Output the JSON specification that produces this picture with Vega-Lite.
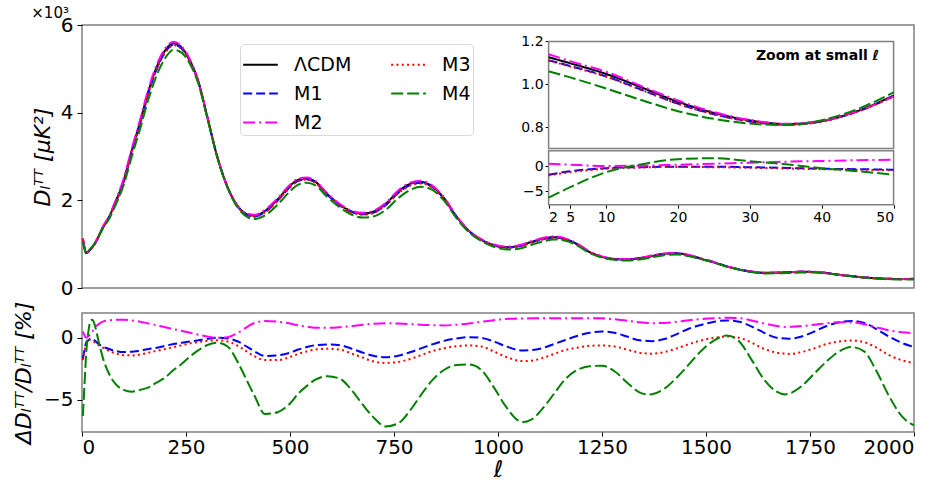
{
  "$schema": "https://vega.github.io/schema/vega-lite/v6.json",
  "padding": {"left": 11, "top": 5, "right": 5, "bottom": 0},
  "config": {
    "font": "DejaVu Sans",
    "view": {"stroke": "#808080", "strokeWidth": 1.5},
    "axis": {"labelFontSize": 20, "labelColor": "black", "tickColor": "black", "domain": false, "grid": false, "titleFontWeight": "normal", "titleColor": "black", "tickSize": 5, "labelPadding": 4}
  },
  "datasets": {
    "top": [
      {"l":2,"ΛCDM":1.13,"M1":1.111,"M2":1.136,"M3":1.110,"M4":1.059},
      {"l":6,"ΛCDM":0.92,"M1":0.911,"M2":0.922,"M3":0.910,"M4":0.885},
      {"l":10,"ΛCDM":0.80,"M1":0.797,"M2":0.800,"M3":0.796,"M4":0.790},
      {"l":15,"ΛCDM":0.83,"M1":0.828,"M2":0.831,"M3":0.828,"M4":0.833},
      {"l":20,"ΛCDM":0.88,"M1":0.879,"M2":0.883,"M3":0.879,"M4":0.891},
      {"l":30,"ΛCDM":1.00,"M1":0.998,"M2":1.008,"M3":0.997,"M4":1.011},
      {"l":40,"ΛCDM":1.18,"M1":1.174,"M2":1.193,"M3":1.173,"M4":1.176},
      {"l":50,"ΛCDM":1.38,"M1":1.370,"M2":1.398,"M3":1.369,"M4":1.358},
      {"l":65,"ΛCDM":1.62,"M1":1.605,"M2":1.643,"M3":1.603,"M4":1.573},
      {"l":80,"ΛCDM":1.95,"M1":1.930,"M2":1.978,"M3":1.926,"M4":1.878},
      {"l":100,"ΛCDM":2.45,"M1":2.422,"M2":2.486,"M3":2.416,"M4":2.347},
      {"l":120,"ΛCDM":3.15,"M1":3.115,"M2":3.194,"M3":3.105,"M4":3.013},
      {"l":140,"ΛCDM":3.80,"M1":3.760,"M2":3.849,"M3":3.749,"M4":3.640},
      {"l":160,"ΛCDM":4.50,"M1":4.460,"M2":4.552,"M3":4.446,"M4":4.320},
      {"l":180,"ΛCDM":5.05,"M1":5.010,"M2":5.101,"M3":4.997,"M4":4.868},
      {"l":200,"ΛCDM":5.42,"M1":5.385,"M2":5.466,"M3":5.371,"M4":5.247},
      {"l":220,"ΛCDM":5.58,"M1":5.552,"M2":5.619,"M3":5.538,"M4":5.435},
      {"l":240,"ΛCDM":5.48,"M1":5.458,"M2":5.510,"M3":5.447,"M4":5.365},
      {"l":260,"ΛCDM":5.18,"M1":5.164,"M2":5.201,"M3":5.157,"M4":5.102},
      {"l":280,"ΛCDM":4.70,"M1":4.691,"M2":4.712,"M3":4.684,"M4":4.653},
      {"l":300,"ΛCDM":3.95,"M1":3.946,"M2":3.954,"M3":3.940,"M4":3.926},
      {"l":325,"ΛCDM":3.00,"M1":3.000,"M2":3.000,"M3":2.994,"M4":2.988},
      {"l":350,"ΛCDM":2.30,"M1":2.299,"M2":2.301,"M3":2.293,"M4":2.284},
      {"l":375,"ΛCDM":1.86,"M1":1.854,"M2":1.867,"M3":1.848,"M4":1.823},
      {"l":400,"ΛCDM":1.67,"M1":1.657,"M2":1.686,"M3":1.650,"M4":1.608},
      {"l":415,"ΛCDM":1.65,"M1":1.632,"M2":1.670,"M3":1.625,"M4":1.572},
      {"l":440,"ΛCDM":1.76,"M1":1.734,"M2":1.784,"M3":1.728,"M4":1.656},
      {"l":470,"ΛCDM":2.02,"M1":1.991,"M2":2.046,"M3":1.984,"M4":1.897},
      {"l":500,"ΛCDM":2.33,"M1":2.302,"M2":2.357,"M3":2.294,"M4":2.207},
      {"l":520,"ΛCDM":2.47,"M1":2.447,"M2":2.495,"M3":2.438,"M4":2.359},
      {"l":540,"ΛCDM":2.50,"M1":2.481,"M2":2.523,"M3":2.473,"M4":2.403},
      {"l":560,"ΛCDM":2.43,"M1":2.415,"M2":2.450,"M3":2.407,"M4":2.347},
      {"l":590,"ΛCDM":2.14,"M1":2.128,"M2":2.157,"M3":2.121,"M4":2.074},
      {"l":620,"ΛCDM":1.90,"M1":1.889,"M2":1.916,"M3":1.882,"M4":1.837},
      {"l":650,"ΛCDM":1.74,"M1":1.724,"M2":1.757,"M3":1.717,"M4":1.665},
      {"l":675,"ΛCDM":1.70,"M1":1.680,"M2":1.718,"M3":1.673,"M4":1.608},
      {"l":700,"ΛCDM":1.74,"M1":1.715,"M2":1.760,"M3":1.707,"M4":1.629},
      {"l":730,"ΛCDM":1.92,"M1":1.890,"M2":1.943,"M3":1.881,"M4":1.783},
      {"l":760,"ΛCDM":2.20,"M1":2.168,"M2":2.225,"M3":2.157,"M4":2.048},
      {"l":790,"ΛCDM":2.38,"M1":2.353,"M2":2.406,"M3":2.340,"M4":2.242},
      {"l":815,"ΛCDM":2.42,"M1":2.399,"M2":2.445,"M3":2.386,"M4":2.309},
      {"l":840,"ΛCDM":2.33,"M1":2.317,"M2":2.354,"M3":2.304,"M4":2.248},
      {"l":870,"ΛCDM":2.05,"M1":2.045,"M2":2.071,"M3":2.033,"M4":1.997},
      {"l":900,"ΛCDM":1.63,"M1":1.629,"M2":1.647,"M3":1.619,"M4":1.594},
      {"l":930,"ΛCDM":1.30,"M1":1.301,"M2":1.315,"M3":1.292,"M4":1.272},
      {"l":960,"ΛCDM":1.10,"M1":1.100,"M2":1.114,"M3":1.092,"M4":1.071},
      {"l":990,"ΛCDM":0.98,"M1":0.977,"M2":0.994,"M3":0.969,"M4":0.941},
      {"l":1020,"ΛCDM":0.93,"M1":0.923,"M2":0.944,"M3":0.916,"M4":0.878},
      {"l":1050,"ΛCDM":0.96,"M1":0.950,"M2":0.975,"M3":0.942,"M4":0.896},
      {"l":1080,"ΛCDM":1.05,"M1":1.040,"M2":1.066,"M3":1.031,"M4":0.981},
      {"l":1110,"ΛCDM":1.13,"M1":1.121,"M2":1.148,"M3":1.112,"M4":1.067},
      {"l":1135,"ΛCDM":1.16,"M1":1.154,"M2":1.178,"M3":1.145,"M4":1.108},
      {"l":1160,"ΛCDM":1.12,"M1":1.118,"M2":1.138,"M3":1.109,"M4":1.082},
      {"l":1190,"ΛCDM":1.00,"M1":1.002,"M2":1.016,"M3":0.992,"M4":0.974},
      {"l":1220,"ΛCDM":0.82,"M1":0.823,"M2":0.833,"M3":0.815,"M4":0.801},
      {"l":1250,"ΛCDM":0.71,"M1":0.714,"M2":0.721,"M3":0.706,"M4":0.694},
      {"l":1280,"ΛCDM":0.66,"M1":0.663,"M2":0.670,"M3":0.655,"M4":0.642},
      {"l":1310,"ΛCDM":0.65,"M1":0.651,"M2":0.659,"M3":0.644,"M4":0.627},
      {"l":1340,"ΛCDM":0.68,"M1":0.679,"M2":0.689,"M3":0.672,"M4":0.650},
      {"l":1370,"ΛCDM":0.73,"M1":0.728,"M2":0.739,"M3":0.721,"M4":0.697},
      {"l":1400,"ΛCDM":0.78,"M1":0.779,"M2":0.789,"M3":0.771,"M4":0.748},
      {"l":1430,"ΛCDM":0.79,"M1":0.792,"M2":0.800,"M3":0.783,"M4":0.765},
      {"l":1460,"ΛCDM":0.74,"M1":0.746,"M2":0.751,"M3":0.736,"M4":0.724},
      {"l":1490,"ΛCDM":0.66,"M1":0.667,"M2":0.670,"M3":0.659,"M4":0.653},
      {"l":1520,"ΛCDM":0.58,"M1":0.588,"M2":0.589,"M3":0.580,"M4":0.579},
      {"l":1550,"ΛCDM":0.49,"M1":0.497,"M2":0.498,"M3":0.490,"M4":0.491},
      {"l":1580,"ΛCDM":0.42,"M1":0.425,"M2":0.427,"M3":0.420,"M4":0.419},
      {"l":1610,"ΛCDM":0.37,"M1":0.373,"M2":0.375,"M3":0.369,"M4":0.363},
      {"l":1640,"ΛCDM":0.345,"M1":0.346,"M2":0.349,"M3":0.342,"M4":0.333},
      {"l":1670,"ΛCDM":0.35,"M1":0.350,"M2":0.353,"M3":0.346,"M4":0.335},
      {"l":1700,"ΛCDM":0.36,"M1":0.360,"M2":0.363,"M3":0.355,"M4":0.344},
      {"l":1730,"ΛCDM":0.37,"M1":0.370,"M2":0.374,"M3":0.366,"M4":0.356},
      {"l":1760,"ΛCDM":0.365,"M1":0.367,"M2":0.369,"M3":0.362,"M4":0.354},
      {"l":1790,"ΛCDM":0.34,"M1":0.343,"M2":0.344,"M3":0.338,"M4":0.334},
      {"l":1820,"ΛCDM":0.30,"M1":0.304,"M2":0.304,"M3":0.299,"M4":0.297},
      {"l":1850,"ΛCDM":0.27,"M1":0.274,"M2":0.273,"M3":0.269,"M4":0.268},
      {"l":1880,"ΛCDM":0.24,"M1":0.243,"M2":0.243,"M3":0.239,"M4":0.237},
      {"l":1910,"ΛCDM":0.22,"M1":0.222,"M2":0.222,"M3":0.218,"M4":0.214},
      {"l":1940,"ΛCDM":0.21,"M1":0.210,"M2":0.211,"M3":0.207,"M4":0.200},
      {"l":1970,"ΛCDM":0.205,"M1":0.204,"M2":0.206,"M3":0.201,"M4":0.192},
      {"l":2000,"ΛCDM":0.21,"M1":0.208,"M2":0.211,"M3":0.206,"M4":0.195}
    ],
    "res": [
      {"l":2,"M1":-1.7,"M2":0.5,"M3":-1.8,"M4":-6.3},
      {"l":6,"M1":-1.0,"M2":0.2,"M3":-1.1,"M4":-3.8},
      {"l":10,"M1":-0.4,"M2":0.0,"M3":-0.5,"M4":-1.3},
      {"l":15,"M1":-0.2,"M2":0.1,"M3":-0.25,"M4":0.4},
      {"l":20,"M1":-0.1,"M2":0.3,"M3":-0.15,"M4":1.3},
      {"l":25,"M1":-0.1,"M2":0.5,"M3":-0.2,"M4":1.45},
      {"l":30,"M1":-0.2,"M2":0.8,"M3":-0.35,"M4":1.1},
      {"l":40,"M1":-0.5,"M2":1.1,"M3":-0.6,"M4":-0.3},
      {"l":50,"M1":-0.7,"M2":1.3,"M3":-0.8,"M4":-1.6},
      {"l":65,"M1":-0.9,"M2":1.4,"M3":-1.05,"M4":-2.9},
      {"l":80,"M1":-1.05,"M2":1.45,"M3":-1.25,"M4":-3.7},
      {"l":100,"M1":-1.15,"M2":1.45,"M3":-1.4,"M4":-4.2},
      {"l":120,"M1":-1.12,"M2":1.4,"M3":-1.42,"M4":-4.35},
      {"l":140,"M1":-1.05,"M2":1.3,"M3":-1.35,"M4":-4.2},
      {"l":160,"M1":-0.9,"M2":1.15,"M3":-1.2,"M4":-4.0},
      {"l":180,"M1":-0.8,"M2":1.0,"M3":-1.05,"M4":-3.6},
      {"l":200,"M1":-0.65,"M2":0.85,"M3":-0.9,"M4":-3.2},
      {"l":220,"M1":-0.5,"M2":0.7,"M3":-0.75,"M4":-2.6},
      {"l":240,"M1":-0.4,"M2":0.55,"M3":-0.6,"M4":-2.1},
      {"l":260,"M1":-0.3,"M2":0.4,"M3":-0.45,"M4":-1.5},
      {"l":280,"M1":-0.2,"M2":0.25,"M3":-0.35,"M4":-1.0},
      {"l":300,"M1":-0.1,"M2":0.1,"M3":-0.25,"M4":-0.6},
      {"l":325,"M1":0.0,"M2":0.0,"M3":-0.2,"M4":-0.4},
      {"l":350,"M1":-0.05,"M2":0.05,"M3":-0.3,"M4":-0.7},
      {"l":375,"M1":-0.3,"M2":0.4,"M3":-0.65,"M4":-2.0},
      {"l":400,"M1":-0.8,"M2":0.95,"M3":-1.2,"M4":-3.7},
      {"l":415,"M1":-1.1,"M2":1.2,"M3":-1.5,"M4":-4.7},
      {"l":440,"M1":-1.47,"M2":1.35,"M3":-1.8,"M4":-6.15},
      {"l":470,"M1":-1.42,"M2":1.3,"M3":-1.8,"M4":-6.0},
      {"l":500,"M1":-1.2,"M2":1.15,"M3":-1.55,"M4":-5.3},
      {"l":520,"M1":-0.95,"M2":1.0,"M3":-1.3,"M4":-4.5},
      {"l":540,"M1":-0.75,"M2":0.9,"M3":-1.1,"M4":-3.9},
      {"l":560,"M1":-0.6,"M2":0.82,"M3":-0.95,"M4":-3.4},
      {"l":590,"M1":-0.54,"M2":0.8,"M3":-0.89,"M4":-3.1},
      {"l":620,"M1":-0.6,"M2":0.85,"M3":-0.95,"M4":-3.3},
      {"l":650,"M1":-0.9,"M2":0.95,"M3":-1.3,"M4":-4.3},
      {"l":675,"M1":-1.2,"M2":1.05,"M3":-1.6,"M4":-5.4},
      {"l":700,"M1":-1.45,"M2":1.13,"M3":-1.9,"M4":-6.4},
      {"l":730,"M1":-1.56,"M2":1.18,"M3":-2.03,"M4":-7.15},
      {"l":760,"M1":-1.45,"M2":1.15,"M3":-1.95,"M4":-6.9},
      {"l":790,"M1":-1.15,"M2":1.1,"M3":-1.7,"M4":-5.8},
      {"l":815,"M1":-0.85,"M2":1.05,"M3":-1.4,"M4":-4.6},
      {"l":840,"M1":-0.55,"M2":1.02,"M3":-1.1,"M4":-3.5},
      {"l":870,"M1":-0.25,"M2":1.0,"M3":-0.85,"M4":-2.6},
      {"l":900,"M1":-0.05,"M2":1.05,"M3":-0.68,"M4":-2.2},
      {"l":930,"M1":0.05,"M2":1.15,"M3":-0.62,"M4":-2.15},
      {"l":960,"M1":0.0,"M2":1.3,"M3":-0.7,"M4":-2.6},
      {"l":990,"M1":-0.3,"M2":1.42,"M3":-1.1,"M4":-4.0},
      {"l":1020,"M1":-0.7,"M2":1.52,"M3":-1.55,"M4":-5.6},
      {"l":1050,"M1":-1.0,"M2":1.55,"M3":-1.85,"M4":-6.7},
      {"l":1060,"M1":-1.02,"M2":1.56,"M3":-1.88,"M4":-6.8},
      {"l":1080,"M1":-1.0,"M2":1.57,"M3":-1.85,"M4":-6.6},
      {"l":1110,"M1":-0.8,"M2":1.58,"M3":-1.6,"M4":-5.6},
      {"l":1135,"M1":-0.5,"M2":1.58,"M3":-1.3,"M4":-4.5},
      {"l":1160,"M1":-0.2,"M2":1.58,"M3":-1.0,"M4":-3.4},
      {"l":1190,"M1":0.15,"M2":1.58,"M3":-0.8,"M4":-2.6},
      {"l":1220,"M1":0.4,"M2":1.58,"M3":-0.65,"M4":-2.3},
      {"l":1250,"M1":0.5,"M2":1.57,"M3":-0.62,"M4":-2.25},
      {"l":1280,"M1":0.4,"M2":1.5,"M3":-0.7,"M4":-2.7},
      {"l":1310,"M1":0.1,"M2":1.38,"M3":-0.95,"M4":-3.6},
      {"l":1340,"M1":-0.2,"M2":1.25,"M3":-1.2,"M4":-4.4},
      {"l":1360,"M1":-0.25,"M2":1.2,"M3":-1.27,"M4":-4.57},
      {"l":1370,"M1":-0.27,"M2":1.18,"M3":-1.28,"M4":-4.55},
      {"l":1400,"M1":-0.1,"M2":1.2,"M3":-1.15,"M4":-4.1},
      {"l":1430,"M1":0.3,"M2":1.3,"M3":-0.85,"M4":-3.2},
      {"l":1460,"M1":0.75,"M2":1.42,"M3":-0.5,"M4":-2.1},
      {"l":1490,"M1":1.05,"M2":1.52,"M3":-0.2,"M4":-1.0},
      {"l":1520,"M1":1.3,"M2":1.58,"M3":0.0,"M4":-0.2},
      {"l":1550,"M1":1.4,"M2":1.61,"M3":0.1,"M4":0.19},
      {"l":1580,"M1":1.3,"M2":1.58,"M3":0.0,"M4":-0.3},
      {"l":1610,"M1":0.9,"M2":1.4,"M3":-0.4,"M4":-1.8},
      {"l":1640,"M1":0.4,"M2":1.15,"M3":-0.9,"M4":-3.4},
      {"l":1670,"M1":0.0,"M2":0.95,"M3":-1.2,"M4":-4.35},
      {"l":1690,"M1":-0.05,"M2":0.87,"M3":-1.28,"M4":-4.57},
      {"l":1700,"M1":-0.08,"M2":0.88,"M3":-1.3,"M4":-4.5},
      {"l":1730,"M1":0.1,"M2":0.95,"M3":-1.15,"M4":-3.9},
      {"l":1760,"M1":0.5,"M2":1.05,"M3":-0.85,"M4":-2.9},
      {"l":1790,"M1":0.95,"M2":1.17,"M3":-0.5,"M4":-1.9},
      {"l":1820,"M1":1.25,"M2":1.25,"M3":-0.3,"M4":-1.1},
      {"l":1850,"M1":1.35,"M2":1.25,"M3":-0.22,"M4":-0.75},
      {"l":1880,"M1":1.2,"M2":1.1,"M3":-0.35,"M4":-1.1},
      {"l":1910,"M1":0.7,"M2":0.85,"M3":-0.8,"M4":-2.7},
      {"l":1940,"M1":0.1,"M2":0.6,"M3":-1.4,"M4":-4.7},
      {"l":1970,"M1":-0.4,"M2":0.45,"M3":-1.8,"M4":-6.3},
      {"l":2000,"M1":-0.75,"M2":0.38,"M3":-2.05,"M4":-7.07}
    ],
    "insetTop": [
      {"l":2,"ΛCDM":1.126,"M1":1.112,"M2":1.140,"M3":1.110,"M4":1.060},
      {"l":5,"ΛCDM":1.098,"M1":1.085,"M2":1.108,"M3":1.083,"M4":1.032},
      {"l":10,"ΛCDM":1.048,"M1":1.037,"M2":1.058,"M3":1.035,"M4":0.980},
      {"l":15,"ΛCDM":0.984,"M1":0.973,"M2":0.990,"M3":0.972,"M4":0.925},
      {"l":20,"ΛCDM":0.918,"M1":0.909,"M2":0.924,"M3":0.908,"M4":0.874},
      {"l":25,"ΛCDM":0.866,"M1":0.860,"M2":0.870,"M3":0.859,"M4":0.838},
      {"l":30,"ΛCDM":0.831,"M1":0.826,"M2":0.833,"M3":0.825,"M4":0.816},
      {"l":35,"ΛCDM":0.814,"M1":0.811,"M2":0.815,"M3":0.810,"M4":0.809},
      {"l":40,"ΛCDM":0.828,"M1":0.826,"M2":0.829,"M3":0.825,"M4":0.832},
      {"l":45,"ΛCDM":0.875,"M1":0.873,"M2":0.874,"M3":0.872,"M4":0.884},
      {"l":50,"ΛCDM":0.947,"M1":0.944,"M2":0.943,"M3":0.943,"M4":0.962}
    ],
    "insetRes": [
      {"l":2,"M1":-1.7,"M2":0.5,"M3":-1.85,"M4":-6.3},
      {"l":5,"M1":-1.0,"M2":0.3,"M3":-1.2,"M4":-4.2},
      {"l":10,"M1":-0.4,"M2":0.05,"M3":-0.5,"M4":-1.2},
      {"l":15,"M1":-0.2,"M2":0.1,"M3":-0.25,"M4":0.4},
      {"l":20,"M1":-0.1,"M2":0.3,"M3":-0.15,"M4":1.4},
      {"l":25,"M1":-0.1,"M2":0.5,"M3":-0.2,"M4":1.6},
      {"l":30,"M1":-0.2,"M2":0.7,"M3":-0.3,"M4":1.0},
      {"l":35,"M1":-0.35,"M2":0.9,"M3":-0.45,"M4":0.4},
      {"l":40,"M1":-0.5,"M2":1.05,"M3":-0.6,"M4":-0.4},
      {"l":45,"M1":-0.6,"M2":1.2,"M3":-0.7,"M4":-1.0},
      {"l":50,"M1":-0.7,"M2":1.3,"M3":-0.8,"M4":-1.7}
    ]
  },
  "spacing": 1,
  "resolve": {"scale": {"color": "shared", "strokeDash": "shared"}},
  "vconcat": [
    {
      "width": 832,
      "height": 263,
      "title": {"text": "×10³", "anchor": "start", "fontSize": 15, "fontWeight": "normal", "offset": -6},
      "resolve": {"scale": {"x": "independent", "y": "independent"}},
      "layer": [
        {
          "data": {"name": "top"},
          "transform": [{"fold": ["ΛCDM", "M1", "M2", "M3", "M4"], "as": ["model", "D"]}],
          "mark": {"type": "line", "strokeWidth": 2, "interpolate": "monotone"},
          "encoding": {
            "x": {"field": "l", "type": "quantitative", "scale": {"domain": [0, 2000], "nice": false}, "axis": null},
            "y": {"field": "D", "type": "quantitative", "scale": {"domain": [0, 6], "nice": false}, "axis": {"values": [0, 2, 4, 6], "title": "Dₗᵀᵀ [μK²]", "titleFontSize": 22, "titleFontStyle": "italic", "titlePadding": 6}},
            "color": {"field": "model", "type": "nominal", "scale": {"domain": ["ΛCDM", "M1", "M2", "M3", "M4"], "range": ["#000000", "#0000ff", "#ff00ff", "#ff0000", "#008000"]},
              "legend": {"orient": "none", "legendX": 158, "legendY": 19, "columns": 2, "title": null, "symbolType": "stroke", "symbolSize": 1200, "symbolStrokeWidth": 2, "labelFontSize": 19, "labelOffset": 15, "rowPadding": -7, "columnPadding": 35, "padding": 2, "strokeColor": "#d9d9d9", "cornerRadius": 4, "fillColor": "white", "labelLimit": 200}},
            "strokeDash": {"field": "model", "type": "nominal", "scale": {"domain": ["ΛCDM", "M1", "M2", "M3", "M4"], "range": [[1, 0], [9, 4], [12, 4, 2, 4], [2, 3.3], [12, 4]]},
              "legend": {"orient": "none", "legendX": 158, "legendY": 19, "columns": 2, "title": null, "symbolType": "stroke", "symbolSize": 1200, "symbolStrokeWidth": 2, "labelFontSize": 19, "labelOffset": 15, "rowPadding": -7, "columnPadding": 35, "padding": 2, "strokeColor": "#d9d9d9", "cornerRadius": 4, "fillColor": "white", "labelLimit": 200}}
          }
        },
        {
          "layer": [
            {
              "data": {"values": [{}]},
              "mark": {"type": "rect", "fill": "white", "stroke": "#808080", "strokeWidth": 1.5},
              "encoding": {
                "x": {"datum": 2, "type": "quantitative", "scale": {"domain": [2, 50], "range": [466.6, 811.6], "nice": false, "zero": false}, "axis": null},
                "x2": {"datum": 50},
                "y": {"datum": 0.7, "type": "quantitative", "scale": {"domain": [0.7, 1.2], "range": [123.4, 16.4], "nice": false, "zero": false}, "axis": {"orient": "left", "offset": -466.6, "values": [0.8, 1.0, 1.2], "format": ".1f", "labelFontSize": 14, "tickSize": 3.5, "labelPadding": 2, "title": null}},
                "y2": {"datum": 1.2}
              }
            },
            {
              "data": {"name": "insetTop"},
              "transform": [{"fold": ["ΛCDM", "M1", "M2", "M3", "M4"], "as": ["model", "D"]}],
              "mark": {"type": "line", "strokeWidth": 2, "interpolate": "monotone"},
              "encoding": {
                "x": {"field": "l", "type": "quantitative"},
                "y": {"field": "D", "type": "quantitative"},
                "color": {"field": "model", "type": "nominal"},
                "strokeDash": {"field": "model", "type": "nominal"}
              }
            },
            {
              "data": {"values": [{}]},
              "mark": {"type": "text", "align": "right", "baseline": "middle", "fontWeight": "bold", "fontSize": 14, "color": "black"},
              "encoding": {
                "x": {"datum": 48, "type": "quantitative"},
                "y": {"datum": 1.13, "type": "quantitative"},
                "text": {"value": "Zoom at small ℓ"}
              }
            }
          ]
        },
        {
          "layer": [
            {
              "data": {"values": [{}]},
              "mark": {"type": "rect", "fill": "white", "stroke": "#808080", "strokeWidth": 1.5},
              "encoding": {
                "x": {"datum": 2, "type": "quantitative", "scale": {"domain": [2, 50], "range": [466.6, 811.6], "nice": false, "zero": false}, "axis": {"orient": "bottom", "offset": -83.3, "values": [2, 5, 10, 20, 30, 40, 50], "labelFontSize": 14, "tickSize": 3.5, "labelPadding": 2, "title": null}},
                "x2": {"datum": 50},
                "y": {"datum": -7.7, "type": "quantitative", "scale": {"domain": [-7.7, 3.1], "range": [179.7, 125.7], "nice": false, "zero": false}, "axis": {"orient": "left", "offset": -466.6, "values": [-5, 0], "labelExpr": "replace(datum.label, '-', '−')", "labelFontSize": 14, "tickSize": 3.5, "labelPadding": 2, "title": null}},
                "y2": {"datum": 3.1}
              }
            },
            {
              "data": {"name": "insetRes"},
              "transform": [{"fold": ["M1", "M2", "M3", "M4"], "as": ["model", "R"]}],
              "mark": {"type": "line", "strokeWidth": 2, "interpolate": "monotone"},
              "encoding": {
                "x": {"field": "l", "type": "quantitative"},
                "y": {"field": "R", "type": "quantitative"},
                "color": {"field": "model", "type": "nominal"},
                "strokeDash": {"field": "model", "type": "nominal"}
              }
            }
          ]
        }
      ]
    },
    {
      "width": 832,
      "height": 119,
      "data": {"name": "res"},
      "transform": [{"fold": ["M1", "M2", "M3", "M4"], "as": ["model", "R"]}],
      "mark": {"type": "line", "strokeWidth": 2, "interpolate": "monotone"},
      "encoding": {
        "x": {"field": "l", "type": "quantitative", "scale": {"domain": [0, 2000], "nice": false}, "axis": {"values": [0, 250, 500, 750, 1000, 1250, 1500, 1750, 2000], "format": "d", "tickSize": 4, "labelPadding": 1, "title": "ℓ", "titleFontSize": 23, "titleFontStyle": "italic", "titlePadding": 1}},
        "y": {"field": "R", "type": "quantitative", "scale": {"domain": [-7.6, 2.0], "nice": false, "zero": false}, "axis": {"values": [-5, 0], "labelExpr": "replace(datum.label, '-', '−')", "title": "ΔDₗᵀᵀ/Dₗᵀᵀ [%]", "titleFontSize": 22, "titleFontStyle": "italic", "titlePadding": 8}},
        "color": {"field": "model", "type": "nominal"},
        "strokeDash": {"field": "model", "type": "nominal"}
      }
    }
  ]
}
